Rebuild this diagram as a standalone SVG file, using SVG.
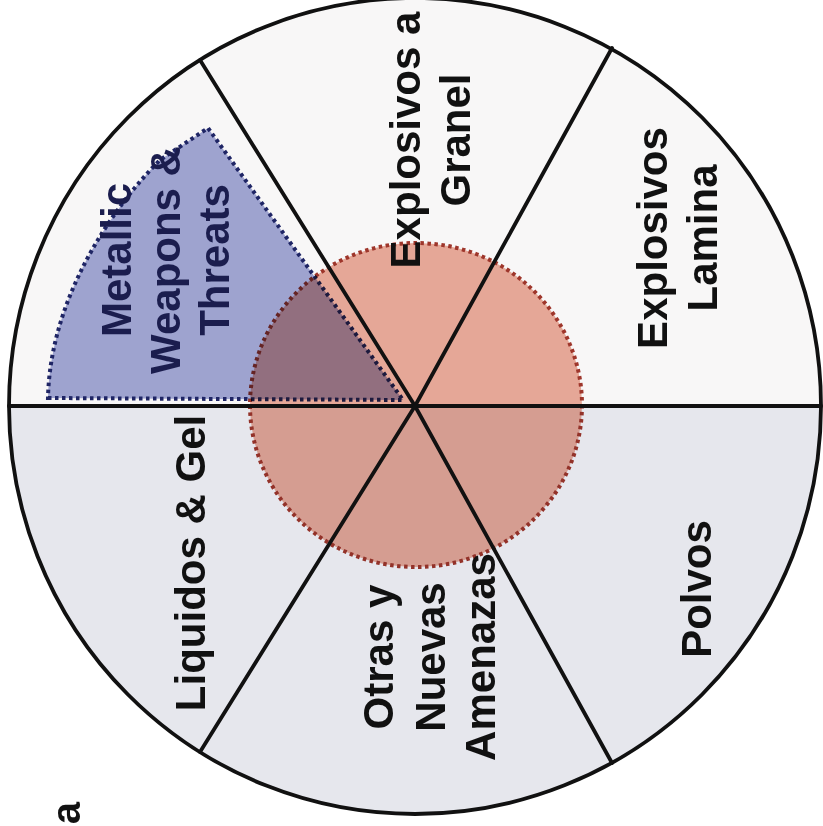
<svg xmlns="http://www.w3.org/2000/svg" width="823" height="826" viewBox="0 0 823 826">
<style>
.upper{fill:#f8f7f7}
.lower{fill:#e6e7ed}
.line{stroke:#111;stroke-width:3.8;fill:none;stroke-linecap:round}
.lbl{font-family:"Liberation Sans",Arial,sans-serif;font-weight:bold;font-size:42px;text-anchor:middle;fill:#111}
.navy{fill:#1b1d4e}
.blue{fill:#a3a8d6;stroke:#1f2668;stroke-width:4;stroke-dasharray:3.5 3.5;mix-blend-mode:multiply}
.pink{fill:#ecad9c;stroke:#a3372c;stroke-width:4;stroke-dasharray:3.5 3.5;mix-blend-mode:multiply}
</style>
<rect width="823" height="826" fill="#ffffff"/>
<g id="sectors">
<path id="sec-metallic" class="upper" d="M415,406 L9,406 A406,408 0 0 1 200,60 Z"/>
<path id="sec-granel" class="upper" d="M415,406 L200,60 A406,408 0 0 1 612,48 Z"/>
<path id="sec-lamina" class="upper" d="M415,406 L612,48 A406,408 0 0 1 821,406 Z"/>
<path id="sec-polvos" class="lower" d="M415,406 L821,406 A406,408 0 0 1 612,763 Z"/>
<path id="sec-otras" class="lower" d="M415,406 L612,763 A406,408 0 0 1 200,752 Z"/>
<path id="sec-liquidos" class="lower" d="M415,406 L200,752 A406,408 0 0 1 9,406 Z"/>
</g>
<g id="overlays">
<path id="metallic-zone" class="blue" d="M48,398 L403,400 L208,128 L160,160 C110,210 50,300 48,398 Z"/>
<ellipse id="core-zone" class="pink" cx="416" cy="405" rx="166" ry="162"/>
</g>
<g id="connectors">
<ellipse class="line" cx="415" cy="406" rx="406" ry="408"/>
<line class="line" x1="9" y1="406" x2="821" y2="406"/>
<line class="line" x1="415" y1="406" x2="200" y2="60"/>
<line class="line" x1="415" y1="406" x2="612" y2="763"/>
<line class="line" x1="415" y1="406" x2="612" y2="48"/>
<line class="line" x1="415" y1="406" x2="200" y2="752"/>
</g>
<g id="label-metallic" transform="translate(0,260) rotate(-90)">
<text class="lbl navy" x="0" y="131">Metallic</text>
<text class="lbl navy" x="0" y="180">Weapons &amp;</text>
<text class="lbl navy" x="0" y="229">Threats</text>
</g>
<g id="label-granel" transform="translate(0,140) rotate(-90)">
<text class="lbl" x="0" y="420">Explosivos a</text>
<text class="lbl" x="0" y="470">Granel</text>
</g>
<g id="label-lamina" transform="translate(0,238) rotate(-90)">
<text class="lbl" x="0" y="667">Explosivos</text>
<text class="lbl" x="0" y="717">Lamina</text>
</g>
<g id="label-liquidos" transform="translate(0,563) rotate(-90)">
<text class="lbl" x="0" y="205">Liquidos &amp; Gel</text>
</g>
<g id="label-otras" transform="translate(0,657) rotate(-90)">
<text class="lbl" x="0" y="393">Otras y</text>
<text class="lbl" x="0" y="445">Nuevas</text>
<text class="lbl" x="0" y="495">Amenazas</text>
</g>
<g id="label-polvos" transform="translate(0,589) rotate(-90)">
<text class="lbl" x="0" y="711">Polvos</text>
</g>
<g id="label-a" transform="translate(0,813) rotate(-90)">
<text class="lbl" x="0" y="80" style="font-size:40px">a</text>
</g>
</svg>
